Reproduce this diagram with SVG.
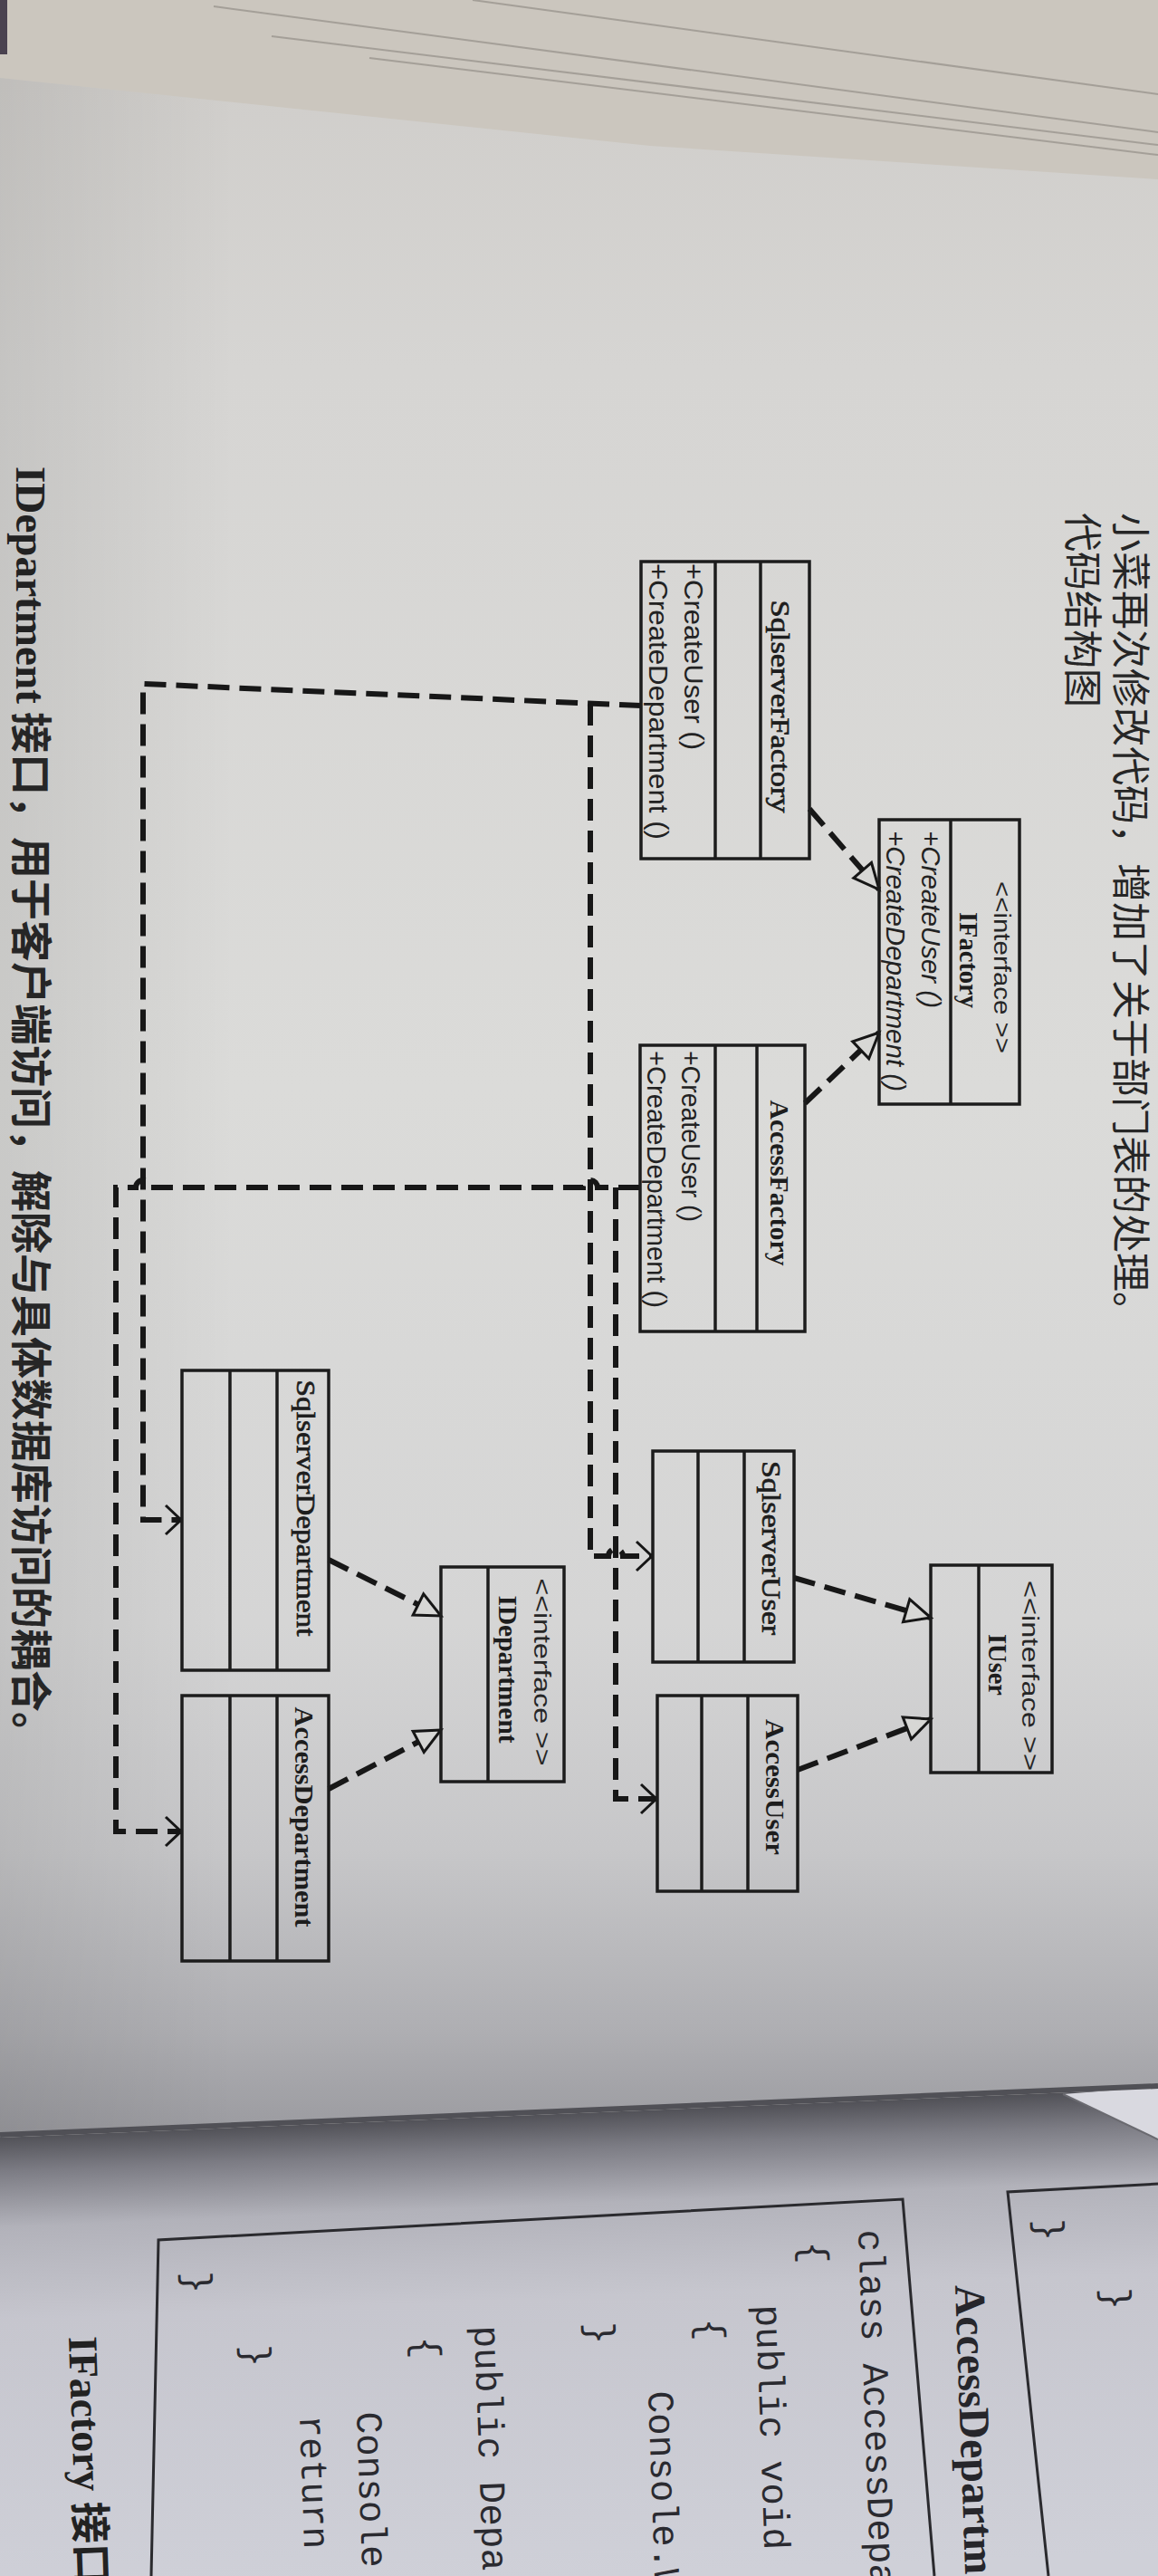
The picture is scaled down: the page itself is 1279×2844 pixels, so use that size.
<svg xmlns="http://www.w3.org/2000/svg" width="1279" height="2844" viewBox="0 0 1279 2844">
<defs>
<style>
.box{fill:none;stroke:#1c1c1c;stroke-width:3.5}
.dash{fill:none;stroke:#171717;stroke-width:6;stroke-dasharray:24 11}
.name{font-family:"Liberation Serif",serif;font-size:30px;font-weight:bold;fill:#1d1d1d}
.reg{font-weight:normal;stroke:#1d1d1d;stroke-width:0.7}
.meth{font-family:"Liberation Sans",sans-serif;font-size:29px;fill:#222}
.ital{font-style:italic}
.stereo{font-family:"Liberation Sans",sans-serif;font-size:26px;fill:#262626}
.cn{font-family:"Noto Sans CJK SC",sans-serif;fill:#262626}
.code{font-family:"Liberation Mono",monospace;font-size:41px;fill:#2a2a30}
.edge{fill:none;stroke:#8a857e;stroke-width:2;opacity:.6}
</style>
<linearGradient id="pageG" gradientUnits="userSpaceOnUse" x1="0" y1="90" x2="0" y2="2358">
<stop offset="0" stop-color="#d0cecb"/>
<stop offset="0.14" stop-color="#d6d5d3"/>
<stop offset="0.49" stop-color="#dbdbd9"/>
<stop offset="0.75" stop-color="#d5d5d5"/>
<stop offset="0.86" stop-color="#c7c7c9"/>
<stop offset="0.95" stop-color="#aeaeb2"/>
<stop offset="1" stop-color="#9a9a9f"/>
</linearGradient>
<linearGradient id="lowG" gradientUnits="userSpaceOnUse" x1="640" y1="2330" x2="661" y2="2844">
<stop offset="0" stop-color="#4e4e54"/>
<stop offset="0.08" stop-color="#7c7c84"/>
<stop offset="0.2" stop-color="#b2b2ba"/>
<stop offset="0.4" stop-color="#c6c6ce"/>
<stop offset="1" stop-color="#cfd0d8"/>
</linearGradient>
<linearGradient id="leftG" x1="0" y1="0" x2="1" y2="0">
<stop offset="0" stop-color="#000" stop-opacity="0.08"/>
<stop offset="1" stop-color="#000" stop-opacity="0"/>
</linearGradient>
<marker id="tri" markerUnits="userSpaceOnUse" markerWidth="40" markerHeight="40" viewBox="-34 -20 40 40" refX="0" refY="0" orient="auto">
<path d="M0,0 L-28,-13 L-28,13 Z" fill="#d7d7d5" stroke="#161616" stroke-width="3"/>
</marker>
<marker id="open" markerUnits="userSpaceOnUse" markerWidth="40" markerHeight="40" viewBox="-24 -20 30 40" refX="0" refY="0" orient="auto">
<path d="M-17,-16 L0,0 L-17,16" fill="none" stroke="#161616" stroke-width="3"/>
</marker>
</defs>

<g id="background">
<rect x="0" y="0" width="1279" height="2844" fill="#d2d1ce"/>
<polygon points="0,86 718,161 1279,198 1279,2304 0,2358" fill="url(#pageG)"/>
<rect x="0" y="86" width="260" height="2272" fill="url(#leftG)"/>
<polygon points="0,0 1279,0 1279,198 718,161 0,86" fill="#cbc6be"/>
<path class="edge" d="M236,7 L1279,146"/>
<path class="edge" d="M522,0 L1279,104"/>
<path class="edge" d="M408,64 L1279,171"/>
<path class="edge" d="M300,40 L1279,160"/>
<rect x="0" y="0" width="8" height="60" fill="#4a4250"/>
<polygon points="0,2360 1279,2306 1279,2844 0,2844" fill="url(#lowG)"/>
<polygon points="1174,2312 1279,2304 1279,2362" fill="#d9d9e0"/>
<path d="M0,2357 L1279,2303" fill="none" stroke="#505056" stroke-width="6"/>
<path d="M1174,2312 L1279,2362" fill="none" stroke="#6a6a70" stroke-width="2"/>
</g>

<g id="caption-top">
<text class="cn" font-size="43" transform="translate(1233,566) rotate(90)">小菜再次修改代码，增加了关于部门表的处理。</text>
<text class="cn" font-size="43" transform="translate(1180,566) rotate(90)">代码结构图</text>
</g>

<g id="caption-bottom">
<text font-family="Liberation Serif, serif" font-weight="bold" font-size="46" fill="#222" transform="translate(18,515) rotate(90)" textLength="262" lengthAdjust="spacingAndGlyphs">IDepartment</text>
<text class="cn" font-size="46" font-weight="bold" fill="#222" transform="translate(18,786) rotate(90)">接口，用于客户端访问，解除与具体数据库访问的耦合。</text>
</g>

<g id="connectors">
<path class="dash" marker-end="url(#tri)" d="M894,893 L971,982"/>
<path class="dash" marker-end="url(#tri)" d="M889,1218 L971,1140"/>
<path class="dash" marker-end="url(#tri)" d="M877,1742 L1028,1786"/>
<path class="dash" marker-end="url(#tri)" d="M881,1954 L1028,1898"/>
<path class="dash" marker-end="url(#tri)" d="M363,1722 L487,1784"/>
<path class="dash" marker-end="url(#tri)" d="M363,1975 L487,1910"/>
<path class="dash" marker-end="url(#open)" d="M708,779 L158,755 L158,1678 L200,1678"/>
<path class="dash" marker-end="url(#open)" d="M652,777 L652,1718 L672,1718 A8,8 0 0 1 688,1718 L720,1718"/>
<path class="dash" marker-end="url(#open)" d="M707,1311 L660,1311 A8,8 0 0 0 644,1311 L166,1311 A8,8 0 0 0 150,1311 L128,1311 L128,2022 L200,2022"/>
<path class="dash" marker-end="url(#open)" d="M680,1311 L680,1986 L725,1986"/>
</g>

<g id="IFactory">
<rect class="box" x="971" y="905" width="155" height="314"/>
<line class="box" x1="1050" y1="905" x2="1050" y2="1219"/>
<text class="stereo" transform="translate(1098,1068) rotate(90)" text-anchor="middle" textLength="190" lengthAdjust="spacingAndGlyphs">&lt;&lt;interface &gt;&gt;</text>
<text class="name" transform="translate(1060,1060) rotate(90)" text-anchor="middle" textLength="106" lengthAdjust="spacingAndGlyphs">IFactory</text>
<text class="meth ital" transform="translate(1018,917) rotate(90)" textLength="196" lengthAdjust="spacingAndGlyphs">+CreateUser ()</text>
<text class="meth ital" transform="translate(979,917) rotate(90)" textLength="288" lengthAdjust="spacingAndGlyphs">+CreateDepartment ()</text>
</g>

<g id="SqlserverFactory">
<rect class="box" x="708" y="620" width="186" height="328"/>
<line class="box" x1="790" y1="620" x2="790" y2="948"/>
<line class="box" x1="840" y1="620" x2="840" y2="948"/>
<text class="name reg" transform="translate(852,780) rotate(90)" text-anchor="middle" textLength="235" lengthAdjust="spacingAndGlyphs">SqlserverFactory</text>
<text class="meth" transform="translate(756,622) rotate(90)" textLength="206" lengthAdjust="spacingAndGlyphs">+CreateUser ()</text>
<text class="meth" transform="translate(717,622) rotate(90)" textLength="305" lengthAdjust="spacingAndGlyphs">+CreateDepartment ()</text>
</g>

<g id="AccessFactory">
<rect class="box" x="707" y="1154" width="182" height="316"/>
<line class="box" x1="790" y1="1154" x2="790" y2="1470"/>
<line class="box" x1="836" y1="1154" x2="836" y2="1470"/>
<text class="name" transform="translate(851,1306) rotate(90)" text-anchor="middle" textLength="183" lengthAdjust="spacingAndGlyphs">AccessFactory</text>
<text class="meth" transform="translate(753,1160) rotate(90)" textLength="189" lengthAdjust="spacingAndGlyphs">+CreateUser ()</text>
<text class="meth" transform="translate(715,1160) rotate(90)" textLength="284" lengthAdjust="spacingAndGlyphs">+CreateDepartment ()</text>
</g>

<g id="IUser">
<rect class="box" x="1028" y="1728" width="134" height="229"/>
<line class="box" x1="1081" y1="1728" x2="1081" y2="1957"/>
<text class="stereo" transform="translate(1129,1850) rotate(90)" text-anchor="middle" textLength="210" lengthAdjust="spacingAndGlyphs">&lt;&lt;interface &gt;&gt;</text>
<text class="name" transform="translate(1092,1838) rotate(90)" text-anchor="middle" textLength="68" lengthAdjust="spacingAndGlyphs">IUser</text>
</g>

<g id="SqlserverUser">
<rect class="box" x="721" y="1602" width="156" height="233"/>
<line class="box" x1="771" y1="1602" x2="771" y2="1835"/>
<line class="box" x1="822" y1="1602" x2="822" y2="1835"/>
<text class="name reg" transform="translate(842,1709) rotate(90)" text-anchor="middle" textLength="192" lengthAdjust="spacingAndGlyphs">SqlserverUser</text>
</g>

<g id="AccessUser">
<rect class="box" x="726" y="1872" width="155" height="216"/>
<line class="box" x1="775" y1="1872" x2="775" y2="2088"/>
<line class="box" x1="826" y1="1872" x2="826" y2="2088"/>
<text class="name" transform="translate(846,1973) rotate(90)" text-anchor="middle" textLength="150" lengthAdjust="spacingAndGlyphs">AccessUser</text>
</g>

<g id="IDepartment">
<rect class="box" x="487" y="1730" width="136" height="237"/>
<line class="box" x1="539" y1="1730" x2="539" y2="1967"/>
<text class="stereo" transform="translate(590,1846) rotate(90)" text-anchor="middle" textLength="207" lengthAdjust="spacingAndGlyphs">&lt;&lt;interface &gt;&gt;</text>
<text class="name" transform="translate(551,1843) rotate(90)" text-anchor="middle" textLength="163" lengthAdjust="spacingAndGlyphs">IDepartment</text>
</g>

<g id="SqlserverDepartment">
<rect class="box" x="201" y="1513" width="162" height="331"/>
<line class="box" x1="254" y1="1513" x2="254" y2="1844"/>
<line class="box" x1="306" y1="1513" x2="306" y2="1844"/>
<text class="name reg" transform="translate(328,1665) rotate(90)" text-anchor="middle" textLength="283" lengthAdjust="spacingAndGlyphs">SqlserverDepartment</text>
</g>

<g id="AccessDepartment">
<rect class="box" x="201" y="1872" width="162" height="293"/>
<line class="box" x1="254" y1="1872" x2="254" y2="2165"/>
<line class="box" x1="306" y1="1872" x2="306" y2="2165"/>
<text class="name" transform="translate(326,2006) rotate(90)" text-anchor="middle" textLength="243" lengthAdjust="spacingAndGlyphs">AccessDepartment</text>
</g>

<g id="next-page">
<path d="M167,2844 L175,2473 L997,2428 L1032,2844" fill="none" stroke="#2a2a2e" stroke-width="3"/>
<path d="M1158,2844 L1113,2420 L1279,2411" fill="none" stroke="#2a2a2e" stroke-width="3"/>
<text font-family="Liberation Serif, serif" font-weight="bold" font-size="48" fill="#26262b" transform="translate(1055,2523) rotate(88)">AccessDepartme</text>
<text class="code" transform="translate(948,2462) rotate(88)">class AccessDepa</text>
<text class="code" transform="translate(886,2475) rotate(88)">{</text>
<text class="code" transform="translate(835,2545) rotate(88)">public void</text>
<text class="code" transform="translate(772,2560) rotate(88)">{</text>
<text class="code" transform="translate(716,2640) rotate(88)">Console.W</text>
<text class="code" transform="translate(650,2564) rotate(88)">}</text>
<text class="code" transform="translate(524,2568) rotate(88)">public Depa</text>
<text class="code" transform="translate(458,2580) rotate(88)">{</text>
<text class="code" transform="translate(394,2663) rotate(88)">Console.</text>
<text class="code" transform="translate(331,2667) rotate(88)">return</text>
<text class="code" transform="translate(270,2589) rotate(88)">}</text>
<text class="code" transform="translate(205,2508) rotate(88)">}</text>
<text class="code" transform="translate(1146,2450) rotate(88)">}</text>
<text class="code" transform="translate(1220,2526) rotate(88)">}</text>
<text font-family="Liberation Serif, 'Noto Sans CJK SC', serif" font-weight="bold" font-size="46" fill="#222" transform="translate(76,2580) rotate(88)">IFactory 接口</text>
</g>
</svg>
